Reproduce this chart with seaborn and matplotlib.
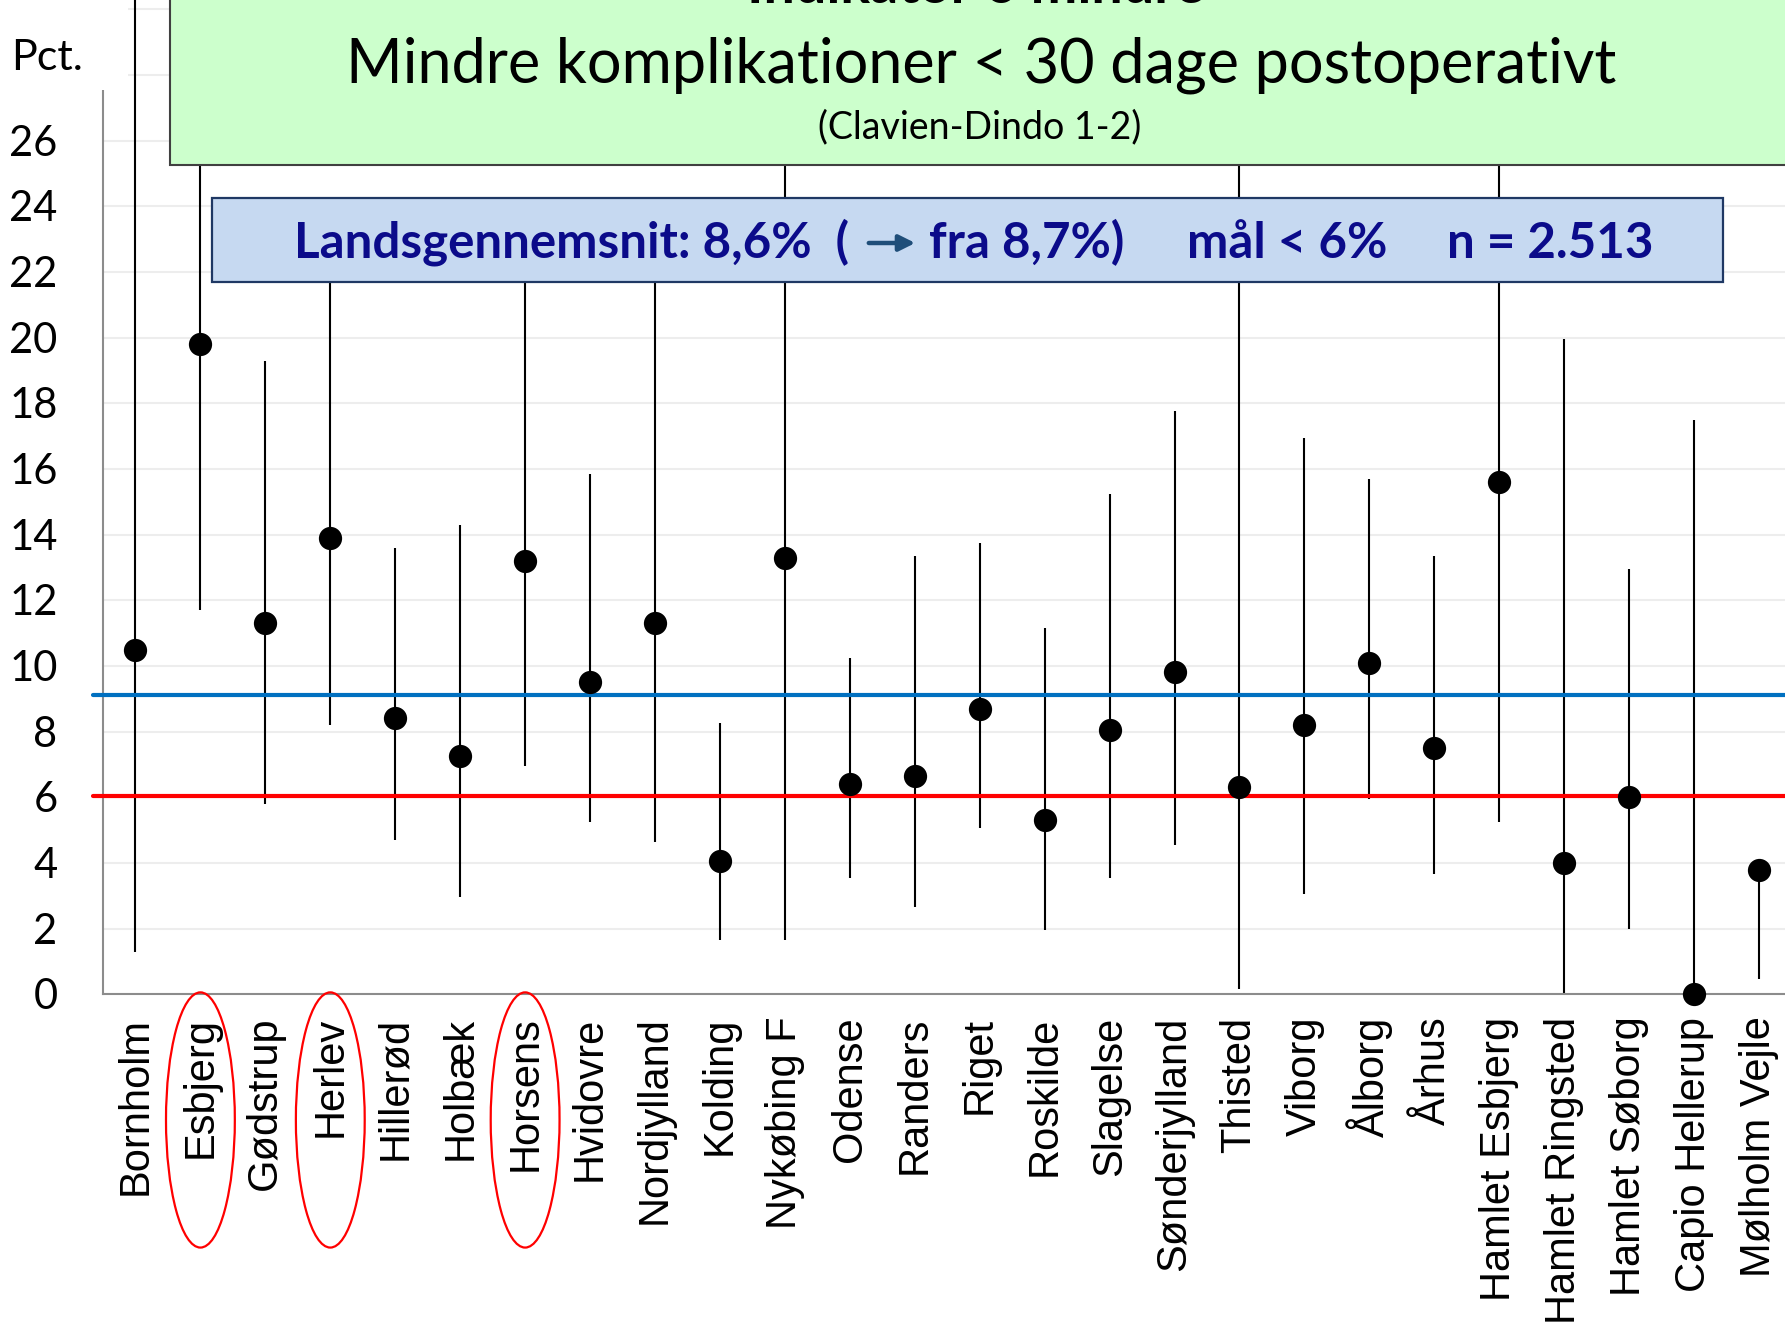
import numpy as np
import pandas as pd
import matplotlib
matplotlib.use("Agg")
import matplotlib.pyplot as plt
import seaborn as sns
from matplotlib.patches import Ellipse, Rectangle, FancyArrowPatch
from matplotlib.transforms import (blended_transform_factory, IdentityTransform,
                                   ScaledTranslation)

# data
afdelinger = ["Bornholm", "Esbjerg", "Gødstrup", "Herlev", "Hillerød", "Holbæk",
              "Horsens", "Hvidovre", "Nordjylland", "Kolding", "Nykøbing F",
              "Odense", "Randers", "Riget", "Roskilde", "Slagelse", "Sønderjylland",
              "Thisted", "Viborg", "Ålborg", "Århus", "Hamlet Esbjerg",
              "Hamlet Ringsted", "Hamlet Søborg", "Capio Hellerup", "Mølholm Vejle"]
andel = [10.5, 19.8, 11.3, 13.9, 8.4, 7.25, 13.2, 9.5, 11.3, 4.05, 13.3, 6.4,
         6.65, 8.7, 5.3, 8.05, 9.8, 6.3, 8.2, 10.1, 7.5, 15.6, 4.0, 6.0, 0.0, 3.78]
ci_lav = [1.3, 11.7, 5.8, 8.2, 4.7, 2.95, 6.95, 5.25, 4.65, 1.65, 1.65, 3.55,
          2.65, 5.05, 1.95, 3.55, 4.55, 0.15, 3.05, 5.95, 3.65, 5.25, 0.05, 2.0, 0.0, 0.47]
ci_hoej = [30.5, 28.5, 19.3, 23.0, 13.6, 14.3, 23.0, 15.85, 23.0, 8.25, 28.0, 10.25,
           13.35, 13.75, 11.15, 15.25, 17.75, 27.5, 16.95, 15.7, 13.35, 27.0, 19.95,
           12.95, 17.5, 3.78]
landsgennemsnit = 9.12
maal = 6.03
markerede = ["Esbjerg", "Herlev", "Horsens"]

W, H, DPI = 1785, 1336, 100
NAVY = "#0B0B8A"
GRAA = "#8C8C8C"

sns.set_style("white")
plt.rcParams["font.family"] = ["Lato", "DejaVu Sans"]
plt.rcParams["text.color"] = "black"
plt.rcParams["xtick.labelcolor"] = "black"
plt.rcParams["ytick.labelcolor"] = "black"

df = pd.DataFrame({"afdeling": afdelinger, "andel": andel,
                   "lav": ci_lav, "hoej": ci_hoej})

fig = plt.figure(figsize=(W / DPI, H / DPI), dpi=DPI)
ax = fig.add_axes([103 / W, 1 - 994.3 / H, (1791.5 - 103) / W, 994.3 / H])

# confidence intervals + points
ax.vlines(df["afdeling"], df["lav"], df["hoej"], color="black", lw=1.5, zorder=2)
sns.scatterplot(data=df, x="afdeling", y="andel", s=280, color="black",
                linewidth=0, zorder=4, ax=ax, legend=False, clip_on=False)

# reference lines
ax.axhline(landsgennemsnit, xmin=-0.006, xmax=1, color="#0070C0", lw=3,
           clip_on=False, zorder=3)
ax.axhline(maal, xmin=-0.006, xmax=1, color="#FF0000", lw=3,
           clip_on=False, zorder=3)

ax.set_xlim(-0.5, len(afdelinger) - 0.5)
ax.set_ylim(0, 30.28)
ax.set_xlabel("")
ax.set_ylabel("")

yt = np.arange(0, 31, 2)
ax.set_yticks(yt)
ax.set_yticklabels([str(v) if v <= 26 else "" for v in yt])
ax.grid(axis="y", color="#EDEDED", lw=1.5)
ax.set_axisbelow(True)

ax.set_xticks(np.arange(len(afdelinger)))
ax.set_xticklabels(afdelinger, rotation=90, fontsize=30,
                   fontfamily="Liberation Sans")
ax.set_xticks(np.arange(len(afdelinger) + 1) - 0.5, minor=True)
ax.tick_params(axis="x", which="major", length=0, pad=16)
ax.tick_params(axis="x", which="minor", length=9.5, width=1.5, color=GRAA)
ax.tick_params(axis="y", length=10.8, width=1.5, color=GRAA, pad=22,
               labelsize=30)

# centre the digits on the tick (Lato sits high with the default alignment)
skub = ScaledTranslation(0, -10.8 / 72, fig.dpi_scale_trans)
for lab in ax.get_yticklabels():
    lab.set_verticalalignment("baseline")
    lab.set_transform(lab.get_transform() + skub)

for side in ["top", "right"]:
    ax.spines[side].set_visible(False)
for side in ["left", "bottom"]:
    ax.spines[side].set_color(GRAA)
    ax.spines[side].set_linewidth(1.5)

# red ellipses round the highlighted departments
trans = blended_transform_factory(ax.transData, fig.transFigure)
for navn in markerede:
    e = Ellipse((afdelinger.index(navn), 0.1617), width=1.06, height=0.191,
                transform=trans, fill=False, ec="#FF0000", lw=1.6, zorder=6)
    fig.add_artist(e)

# "Pct." label on white patch
fig.add_artist(Rectangle((0, 1 - 90 / H), 128 / W, 90 / H, transform=fig.transFigure,
                         fc="white", ec="none", zorder=1))
fig.text(11 / W, 1 - 70 / H, "Pct.", fontsize=31, va="baseline", ha="left", zorder=6)

# green title box
fig.add_artist(Rectangle((170 / W, 1 - 165 / H), 1.0, 0.3, transform=fig.transFigure,
                         fc="#CCFFCC", ec="#404040", lw=1.5, zorder=5))
fig.text(976 / W, 1 - 3 / H, "Indikator 6 mindre", fontsize=40, fontweight="bold",
         ha="center", va="baseline", zorder=6)
fig.text(981 / W, 1 - 82 / H, "Mindre komplikationer < 30 dage postoperativt",
         fontsize=44, ha="center", va="baseline", zorder=6)
fig.text(980 / W, 1 - 138 / H, "(Clavien-Dindo 1-2)", fontsize=27,
         ha="center", va="baseline", zorder=6)

# blue info box
fig.add_artist(Rectangle((212 / W, 1 - 282 / H), (1723 - 212) / W, 84 / H,
                         transform=fig.transFigure, fc="#C6D9F1", ec="#1F3864",
                         lw=1.6, zorder=5))
y_txt = 1 - 258 / H
for x0, tekst in [(294, "Landsgennemsnit: 8,6%  ("), (929, "fra 8,7%)"),
                  (1187, "mål < 6%"), (1447, "n = 2.513")]:
    fig.text(x0 / W, y_txt, tekst, fontsize=35.5, fontweight="bold", color=NAVY,
             ha="left", va="baseline", zorder=6)
fig.add_artist(FancyArrowPatch((866, H - 243), (918, H - 243), transform=IdentityTransform(),
                               arrowstyle="-|>", mutation_scale=24, lw=3.2,
                               color="#1F4E79", zorder=6))

fig.savefig("out.png", dpi=DPI)
